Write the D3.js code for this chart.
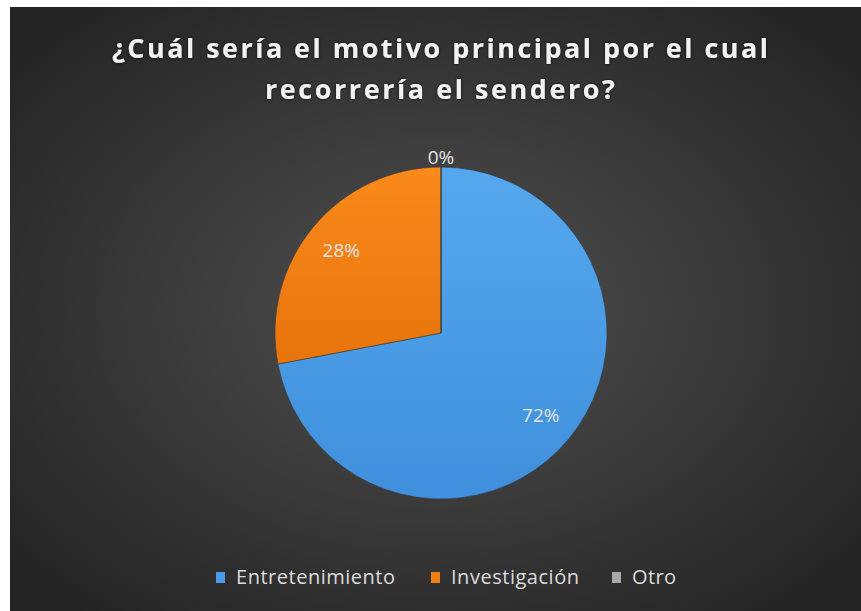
<!DOCTYPE html>
<html><head><meta charset="utf-8">
<script src="https://cdn.jsdelivr.net/npm/d3@7"></script>
<style>html,body{margin:0;padding:0;background:#fff;}svg{display:block;}</style>
</head><body>
<script>
const categories = ["Entretenimiento", "Investigación", "Otro"];
const values = [72, 28, 0];
const labels = ["72%", "28%", "0%"];
const titleLines = ["¿Cuál sería el motivo principal por el cual", "recorrería el sendero?"];

const W = 861, H = 611;
const svg = d3.select("body").append("svg").attr("width", W).attr("height", H);
const defs = svg.append("defs");

const bg = defs.append("radialGradient").attr("id","bg").attr("cx","50%").attr("cy","50%").attr("r","65%");
bg.append("stop").attr("offset","0%").attr("stop-color","#505050");
bg.append("stop").attr("offset","100%").attr("stop-color","#242424");

const gBlue = defs.append("linearGradient").attr("id","gBlue").attr("x1","0").attr("y1","0").attr("x2","0").attr("y2","1");
gBlue.append("stop").attr("offset","0%").attr("stop-color","#55a8ee");
gBlue.append("stop").attr("offset","100%").attr("stop-color","#3f8fdc");
const gOr = defs.append("linearGradient").attr("id","gOr").attr("x1","0").attr("y1","0").attr("x2","0").attr("y2","1");
gOr.append("stop").attr("offset","0%").attr("stop-color","#fa8a1c");
gOr.append("stop").attr("offset","100%").attr("stop-color","#e8740c");
const gGr = defs.append("linearGradient").attr("id","gGr").attr("x1","0").attr("y1","0").attr("x2","0").attr("y2","1");
gGr.append("stop").attr("offset","0%").attr("stop-color","#cfcfcf");
gGr.append("stop").attr("offset","100%").attr("stop-color","#8a8a8a");

const fills = ["url(#gBlue)", "url(#gOr)", "url(#gGr)"];
const swatch = ["#4a9be6", "#f07e14", "#a8a8a8"];

const glow = defs.append("filter").attr("id","glow").attr("x","-10%").attr("y","-30%").attr("width","120%").attr("height","160%");
glow.append("feGaussianBlur").attr("in","SourceAlpha").attr("stdDeviation","1.5").attr("result","b");
glow.append("feFlood").attr("flood-color","#000").attr("flood-opacity","0.8");
glow.append("feComposite").attr("in2","b").attr("operator","in").attr("result","s");
const m = glow.append("feMerge"); m.append("feMergeNode").attr("in","s"); m.append("feMergeNode").attr("in","SourceGraphic");

svg.append("rect").attr("x",10).attr("y",7).attr("width",W-10).attr("height",H-7).attr("fill","url(#bg)");

// title
const titleLen = [656, 350];
const title = svg.append("g").attr("filter","url(#glow)");
titleLines.forEach((t,i)=>{
  title.append("text").attr("x",440).attr("y",58 + i*41).attr("text-anchor","middle")
    .attr("font-family","'Open Sans', 'Noto Sans', sans-serif").attr("font-weight","bold")
    .attr("font-size",27).attr("textLength",titleLen[i]).attr("lengthAdjust","spacing")
    .attr("fill","#f2f2f2").text(t);
});

// pie
const cx = 441, cy = 333, R = 166;
const pie = d3.pie().sort(null).value(d=>d)(values);
const arc = d3.arc().innerRadius(0).outerRadius(R);
const g = svg.append("g").attr("transform",`translate(${cx},${cy})`);
g.selectAll("path.slice").data(pie).join("path").attr("class","slice")
  .attr("d",arc).attr("fill",(d,i)=>fills[i]).attr("stroke","#3a3a3a").attr("stroke-width",0.6);

const labelArc = d3.arc().innerRadius(R*0.78).outerRadius(R*0.78);
const lbl = g.append("g").attr("font-family","'Open Sans', 'Noto Sans', sans-serif").attr("font-size",19).attr("fill","#e4e4e4").attr("text-anchor","middle");
pie.forEach((d,i)=>{
  let [x,y] = labelArc.centroid(d);
  if (values[i] === 0) { x = 0; y = -R - 10; }
  lbl.append("text").attr("x",x).attr("y",y).attr("dy","0.35em").text(labels[i]);
});

// legend
const legX = [216, 431, 612];
const legLen = [159, 128, 44];
const leg = svg.append("g").attr("font-family","'Open Sans', 'Noto Sans', sans-serif").attr("font-size",20).attr("fill","#dcdcdc");
categories.forEach((c,i)=>{
  leg.append("rect").attr("x",legX[i]).attr("y",572).attr("width",9).attr("height",11).attr("fill",swatch[i]);
  leg.append("text").attr("x",legX[i]+20).attr("y",577).attr("dy","0.35em")
    .attr("textLength",legLen[i]).attr("lengthAdjust","spacing").text(c);
});
</script>
</body></html>
